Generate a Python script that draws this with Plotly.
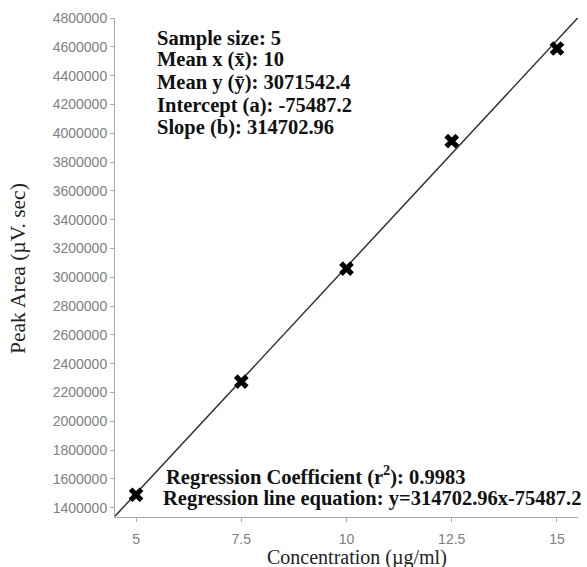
import plotly.graph_objects as go

# Data
concentration = [5, 7.5, 10, 12.5, 15]
peak_area = [1489462, 2275000, 3060000, 3945000, 4588250]
intercept = -75487.2
slope = 314702.96
y_ticks = list(range(1400000, 4800001, 200000))
x_ticks = [5, 7.5, 10, 12.5, 15]
x_range = [4.5, 15.5]
y_range = [1335000, 4800000]

stats_lines = [
    "Sample size: 5",
    "Mean x (x\u0304): 10",
    "Mean y (y\u0304): 3071542.4",
    "Intercept (a): -75487.2",
    "Slope (b): 314702.96",
]
reg_line1 = "Regression Coefficient (r<sup>2</sup>): 0.9983"
reg_line2 = "Regression line equation: y=314702.96x-75487.2"
x_title = "Concentration (µg/ml)"
y_title = "Peak Area (µV. sec)"

W, H = 587, 567
ML, MR, MT, MB = 115, 9, 18, 50
PW, PH = W - ML - MR, H - MT - MB


def px(xp):
    return (xp - ML) / PW


def py(yp):
    return 1 - (yp - MT) / PH


fig = go.Figure()

line_x = [x_range[0], x_range[1]]
line_y = [slope * v + intercept for v in line_x]
fig.add_trace(go.Scatter(x=line_x, y=line_y, mode="lines",
                         line=dict(color="#333333", width=1.5),
                         showlegend=False, hoverinfo="skip"))
fig.add_trace(go.Scatter(x=concentration, y=peak_area, mode="markers",
                         marker=dict(symbol="x", size=13, color="black",
                                     line=dict(width=0)),
                         showlegend=False))

serif = "Liberation Serif, Times New Roman, serif"
text_font = dict(family=serif, size=20.5, color="#111111")
stat_y = [38, 60, 82, 105, 127]
for s, yp in zip(stats_lines, stat_y):
    fig.add_annotation(xref="paper", yref="paper", x=px(155), y=py(yp),
                       xanchor="left", yanchor="middle", align="left",
                       text="<b>%s</b>" % s, showarrow=False, font=text_font)
fig.add_annotation(xref="paper", yref="paper", x=px(164), y=py(475),
                   xanchor="left", yanchor="middle", align="left",
                   text="<b>%s</b>" % reg_line1, showarrow=False,
                   font=text_font)
fig.add_annotation(xref="paper", yref="paper", x=px(161), y=py(498),
                   xanchor="left", yanchor="middle", align="left",
                   text="<b>%s</b>" % reg_line2, showarrow=False,
                   font=text_font)

# axis titles as annotations
fig.add_annotation(xref="paper", yref="paper", x=px(357), y=py(557),
                   xanchor="center", yanchor="middle", text=x_title,
                   showarrow=False,
                   font=dict(family=serif, size=20, color="#222222"))
fig.add_annotation(xref="paper", yref="paper", x=px(18), y=py(269),
                   xanchor="center", yanchor="middle", text=y_title,
                   textangle=-90, showarrow=False,
                   font=dict(family=serif, size=21.5, color="#222222"))

axis_common = dict(showgrid=False, zeroline=False, showline=True,
                   linecolor="#aaaaaa", linewidth=1, ticks="outside",
                   ticklen=4, tickcolor="#aaaaaa", automargin=False,
                   tickfont=dict(family="Liberation Sans, Arial, sans-serif",
                                 size=14, color="#808080"))

fig.update_xaxes(range=x_range, tickvals=x_ticks,
                 ticktext=[str(v) for v in x_ticks],
                 ticklabelstandoff=5, **axis_common)
fig.update_yaxes(range=y_range, tickvals=y_ticks,
                 ticktext=[str(v) for v in y_ticks],
                 **axis_common)

fig.update_layout(width=W, height=H,
                  margin=dict(l=ML, r=MR, t=MT, b=MB),
                  paper_bgcolor="white", plot_bgcolor="white")

fig.write_html("out.html")
